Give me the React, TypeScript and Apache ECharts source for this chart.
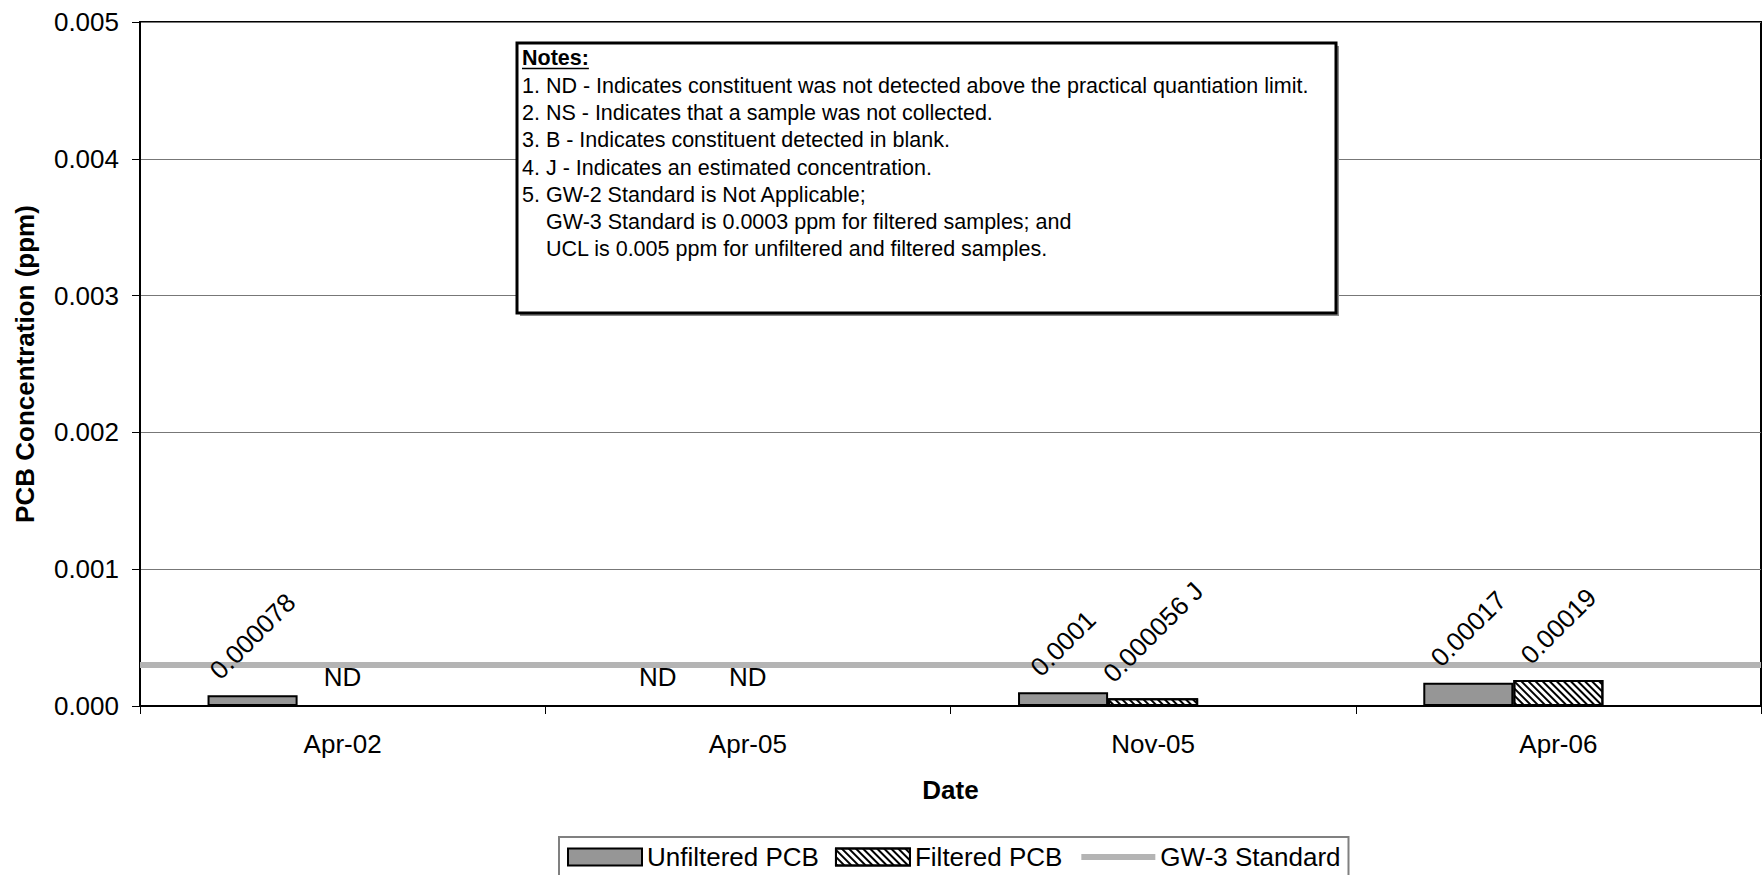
import React, { useEffect, useRef } from "react";
import * as echarts from "echarts";

const FONT = "'Liberation Sans', Arial, Helvetica, sans-serif";

const categories = ["Apr-02", "Apr-05", "Nov-05", "Apr-06"];
const unfilteredPCB: (number | null)[] = [0.000078, null, 0.0001, 0.00017];
const unfilteredQualifiers = ["", "ND", "", ""];
const filteredPCB: (number | null)[] = [null, null, 0.000056, 0.00019];
const filteredQualifiers = ["ND", "ND", "J", ""];
const gw3Standard = 0.0003;
const gw3Values = [0.0003, 0.0003, 0.0003, 0.0003];
const yMin = 0;
const yMax = 0.005;
const yInterval = 0.001;

const noteTitle = "Notes:";
const noteLines = [
  "1. ND - Indicates constituent was not detected above the practical quantiation limit.",
  "2. NS - Indicates that a sample was not collected.",
  "3. B - Indicates constituent detected in blank.",
  "4. J - Indicates an estimated concentration.",
  "5. GW-2 Standard is Not Applicable;",
  "GW-3 Standard is 0.0003 ppm for filtered samples; and",
  "UCL is 0.005 ppm for unfiltered and filtered samples.",
];

let measureCtx: CanvasRenderingContext2D | null = null;
function measure(text: string, font: string): number {
  if (!measureCtx) {
    measureCtx = document.createElement("canvas").getContext("2d");
  }
  if (!measureCtx) return text.length * 14;
  measureCtx.font = font;
  return measureCtx.measureText(text).width;
}

function buildBarData(values: (number | null)[], quals: string[]) {
  return values.map((v, i) => {
    if (v === null) {
      return {
        value: 0,
        itemStyle: { borderWidth: 0 },
        label: {
          formatter: "ND",
          rotate: 0,
          distance: 16,
          align: "center",
          verticalAlign: "bottom",
        },
      };
    }
    const text = String(v) + (quals[i] ? " " + quals[i] : "");
    const L = measure(text, `26px ${FONT}`);
    const dist = ((L + 19) * Math.SQRT1_2) / 2 + 14;
    return {
      value: v,
      label: {
        formatter: text,
        rotate: 45,
        distance: dist,
        align: "center",
        verticalAlign: "middle",
      },
    };
  });
}

export default function App() {
  const ref = useRef<HTMLDivElement>(null);

  useEffect(() => {
    if (!ref.current) return;
    const chart = echarts.init(ref.current, null, { renderer: "svg" });

    const labelBase = {
      show: true,
      position: "top",
      color: "#000",
      fontSize: 26,
      fontFamily: FONT,
    };

    const notesGraphics: any[] = [
      {
        type: "rect",
        shape: { x: 520, y: 46, width: 819, height: 270 },
        style: { fill: "#8a8a8a" },
        z: 100,
      },
      {
        type: "rect",
        shape: { x: 517, y: 43, width: 819, height: 270 },
        style: { fill: "#fff", stroke: "#000", lineWidth: 3 },
        z: 101,
      },
      {
        type: "text",
        x: 522,
        y: 58,
        style: {
          text: noteTitle,
          fontFamily: FONT,
          fontSize: 21.5,
          fontWeight: "bold",
          fill: "#000",
          verticalAlign: "middle",
          align: "left",
        },
        z: 102,
      },
      {
        type: "line",
        shape: { x1: 522, y1: 68.5, x2: 522 + measure(noteTitle, `bold 21.5px ${FONT}`), y2: 68.5 },
        style: { stroke: "#000", lineWidth: 1.5 },
        z: 102,
      },
      ...noteLines.map((line, i) => ({
        type: "text",
        x: /^\d/.test(line) ? 522 : 546,
        y: 86 + i * 27.2,
        style: {
          text: line,
          fontFamily: FONT,
          fontSize: 21.5,
          fill: "#000",
          verticalAlign: "middle",
          align: "left",
        },
        z: 102,
      })),
    ];

    const option: any = {
      animation: false,
      textStyle: { fontFamily: FONT },
      grid: {
        left: 140,
        top: 22,
        right: 1,
        bottom: 169,
        show: true,
        borderColor: "#000",
        borderWidth: 2,
        backgroundColor: "#fff",
      },
      legend: {
        left: 559,
        top: 837,
        orient: "horizontal",
        itemWidth: 74,
        itemHeight: 17,
        itemGap: 16,
        padding: [7, 8, 14, 8],
        borderColor: "#808080",
        borderWidth: 2,
        backgroundColor: "#fff",
        textStyle: { fontSize: 26, color: "#000", fontFamily: FONT },
        data: [
          { name: "Unfiltered PCB", icon: "rect" },
          { name: "Filtered PCB", icon: "rect" },
          {
            name: "GW-3 Standard",
            itemStyle: { opacity: 0 },
            lineStyle: { width: 6, color: "#b4b4b4" },
          },
        ],
        selectedMode: false,
      },
      xAxis: [
        {
          type: "category",
          data: categories,
          boundaryGap: true,
          axisLine: { show: true, lineStyle: { color: "#000", width: 2 } },
          axisTick: { show: true, length: 8, alignWithLabel: false, lineStyle: { color: "#000", width: 1 } },
          axisLabel: { color: "#000", fontSize: 26, margin: 25, fontFamily: FONT },
          splitLine: { show: false },
          name: "Date",
          nameLocation: "middle",
          nameGap: 71,
          nameTextStyle: { fontWeight: "bold", fontSize: 26, color: "#000", fontFamily: FONT },
        },
      ],
      yAxis: {
        type: "value",
        min: yMin,
        max: yMax,
        interval: yInterval,
        axisLine: { show: true, lineStyle: { color: "#000", width: 2 } },
        axisTick: { show: true, length: 8, lineStyle: { color: "#000", width: 1 } },
        axisLabel: {
          color: "#000",
          fontSize: 26,
          margin: 21,
          fontFamily: FONT,
          formatter: (v: number) => v.toFixed(3),
        },
        splitLine: { show: true, lineStyle: { color: "#777", width: 1 } },
        name: "PCB Concentration (ppm)",
        nameLocation: "middle",
        nameGap: 102,
        nameTextStyle: { fontWeight: "bold", fontSize: 26, color: "#000", fontFamily: FONT },
      },
      series: [
        {
          type: "line",
          name: "GW-3 Standard",
          data: gw3Values,
          symbol: "none",
          showSymbol: false,
          lineStyle: { color: "#b4b4b4", width: 6 },
          itemStyle: { color: "#b4b4b4" },
          z: 1,
          silent: true,
          markLine: {
            silent: true,
            z: 1,
            precision: 8,
            symbol: ["none", "none"],
            label: { show: false },
            lineStyle: { color: "#b4b4b4", width: 6, type: "solid" },
            emphasis: { disabled: true },
            data: [{ yAxis: gw3Standard }],
          },
        },
        {
          type: "bar",
          name: "Unfiltered PCB",
          data: buildBarData(unfilteredPCB, unfilteredQualifiers),
          barGap: "0%",
          barCategoryGap: "33.33%",
          itemStyle: { color: "#969696", borderColor: "#000", borderWidth: 2 },
          label: labelBase,
          z: 3,
        },
        {
          type: "bar",
          name: "Filtered PCB",
          data: buildBarData(filteredPCB, filteredQualifiers),
          barGap: "0%",
          barCategoryGap: "33.33%",
          itemStyle: {
            color: "#fff",
            borderColor: "#000",
            borderWidth: 2,
            decal: {
              symbol: "rect",
              symbolSize: 1,
              color: "#000",
              dashArrayX: [1, 0],
              dashArrayY: [2, 3],
              rotation: Math.PI / 4,
            },
          },
          label: labelBase,
          z: 3,
        },
        {
          type: "bar",
          name: "_slot",
          data: categories.map(() => null),
          barGap: "0%",
          barCategoryGap: "33.33%",
          z: 3,
        },
      ],
      graphic: notesGraphics,
    };

    chart.setOption(option);
    return () => {
      chart.dispose();
    };
  }, []);

  return (
    <div
      ref={ref}
      style={{ position: "absolute", left: 0, top: 0, width: 1762, height: 875, background: "#fff" }}
    />
  );
}
